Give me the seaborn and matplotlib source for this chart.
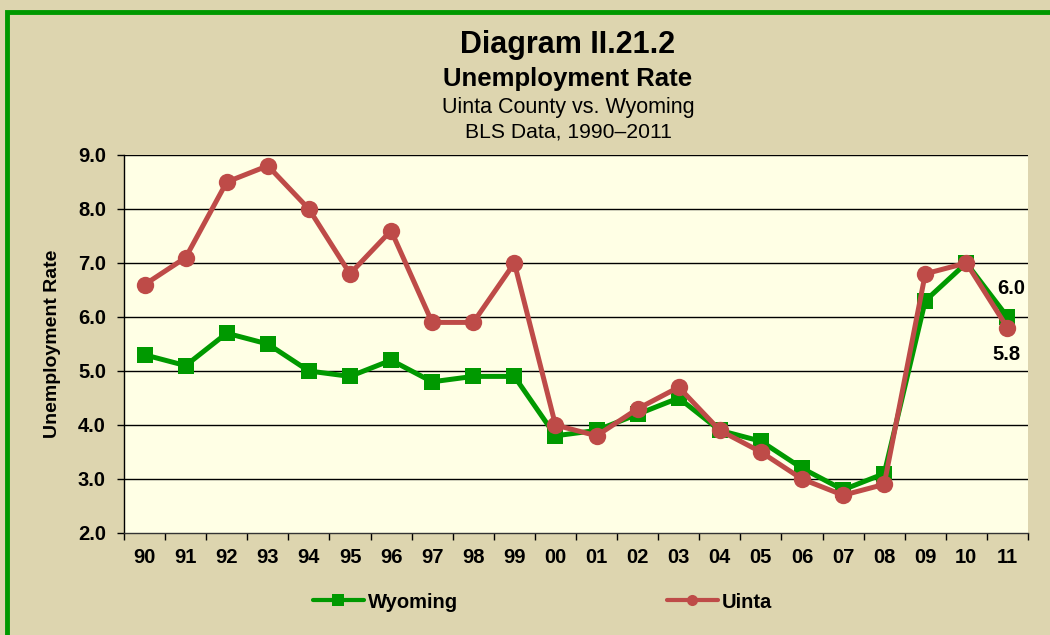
import numpy as np
import pandas as pd
import matplotlib
matplotlib.use("Agg")
import matplotlib.pyplot as plt
from matplotlib.patches import Rectangle
from matplotlib.lines import Line2D
import seaborn as sns

years = ["90", "91", "92", "93", "94", "95", "96", "97", "98", "99", "00",
         "01", "02", "03", "04", "05", "06", "07", "08", "09", "10", "11"]
wyoming = [5.3, 5.1, 5.7, 5.5, 5.0, 4.9, 5.2, 4.8, 4.9, 4.9, 3.8,
           3.9, 4.2, 4.5, 3.9, 3.7, 3.2, 2.8, 3.1, 6.3, 7.0, 6.0]
uinta = [6.6, 7.1, 8.5, 8.8, 8.0, 6.8, 7.6, 5.9, 5.9, 7.0, 4.0,
         3.8, 4.3, 4.7, 3.9, 3.5, 3.0, 2.7, 2.9, 6.8, 7.0, 5.8]
y_ticks = [2.0, 3.0, 4.0, 5.0, 6.0, 7.0, 8.0, 9.0]

sns.set_theme(style="white")
plt.rcParams['font.family'] = ['Liberation Sans', 'DejaVu Sans']
plt.rcParams['text.color'] = 'black'
plt.rcParams['axes.labelcolor'] = 'black'
plt.rcParams['xtick.color'] = 'black'
plt.rcParams['ytick.color'] = 'black'

GREEN = "#009900"
RED = "#BE4B48"
FIG_BG = "#DDD5AF"
AX_BG = "#FFFFE5"

W, H = 1050, 635
fig = plt.figure(figsize=(W / 100, H / 100), dpi=100, facecolor=FIG_BG)
ax = fig.add_axes([124 / W, 1 - 533 / H, (1028 - 124) / W, (533 - 155) / H])
ax.set_facecolor(AX_BG)

# green frame
fig.patches.append(Rectangle((7 / W, -0.1), 1.2, 1 - 11.5 / H + 0.1, transform=fig.transFigure,
                             fill=False, edgecolor=GREEN, linewidth=3.5, zorder=10))

x = np.arange(len(years))
df = pd.DataFrame({
    "x": np.concatenate([x, x]),
    "rate": wyoming + uinta,
    "series": ["Wyoming"] * len(x) + ["Uinta"] * len(x),
})

sns.lineplot(data=df[df.series == "Wyoming"], x="x", y="rate", ax=ax, color=GREEN,
             linewidth=3.6, marker="s", markersize=11.5, markeredgewidth=0,
             sort=False, zorder=3, legend=False)
sns.lineplot(data=df[df.series == "Uinta"], x="x", y="rate", ax=ax, color=RED,
             linewidth=3.6, marker="o", markersize=12.5, markeredgewidth=0,
             sort=False, zorder=4, legend=False)

ax.set_xlim(-0.5, len(years) - 0.5)
ax.set_ylim(2.0, 9.0)
ax.set_yticks(y_ticks)
ax.set_yticklabels([f"{v:.1f}" for v in y_ticks], fontsize=14.5, fontweight="bold")
ax.set_xticks(x)
ax.set_xticklabels(years, fontsize=14.5, fontweight="bold")
ax.set_xticks(np.arange(-0.5, len(years), 1.0), minor=True)
ax.tick_params(axis="x", which="major", length=0, pad=11)
ax.tick_params(axis="x", which="minor", length=5, width=1, color="black", direction="out", bottom=True)
ax.tick_params(axis="y", which="major", length=5, width=1, color="black", direction="out", left=True, pad=8)
for v in y_ticks[1:]:
    ax.axhline(v, color="black", linewidth=1, zorder=1)
ax.grid(False)
for side in ["top", "right"]:
    ax.spines[side].set_visible(False)
ax.spines["left"].set_color("black")
ax.spines["left"].set_linewidth(1)
ax.spines["bottom"].set_color("#333333")
ax.spines["bottom"].set_linewidth(1)
ax.set_xlabel("")
ax.set_ylabel("Unemployment Rate", fontsize=14, fontweight="bold", labelpad=12)

ax.text(len(years) - 1 + 0.1, wyoming[-1] + 0.52, f"{wyoming[-1]:.1f}", ha="center", va="center",
        fontsize=14.5, fontweight="bold")
ax.text(len(years) - 1 - 0.03, uinta[-1] - 0.5, f"{uinta[-1]:.1f}", ha="center", va="center",
        fontsize=14.5, fontweight="bold")

handles = [
    Line2D([], [], color=GREEN, linewidth=3, marker="s", markersize=8, markeredgewidth=0),
    Line2D([], [], color=RED, linewidth=3, marker="o", markersize=8, markeredgewidth=0),
]
labels = ["Wyoming", "Uinta"]
fig.legend(handles, labels, loc="center", bbox_to_anchor=(542.5 / W, 1 - 602 / H), ncol=2,
           frameon=False, handlelength=2.5, handletextpad=0.2, columnspacing=10.4,
           prop={"weight": "bold", "size": 14.5})

cx = 568 / W
fig.text(cx, 1 - 45 / H, "Diagram II.21.2", ha="center", va="center", fontsize=22, fontweight="bold")
fig.text(cx, 1 - 79 / H, "Unemployment Rate", ha="center", va="center", fontsize=18.5, fontweight="bold")
fig.text(cx, 1 - 108 / H, "Uinta County vs. Wyoming", ha="center", va="center", fontsize=15.5)
fig.text(cx, 1 - 132 / H, "BLS Data, 1990\u20132011", ha="center", va="center", fontsize=15.2)

fig.savefig("out.png", dpi=100, facecolor=FIG_BG)
